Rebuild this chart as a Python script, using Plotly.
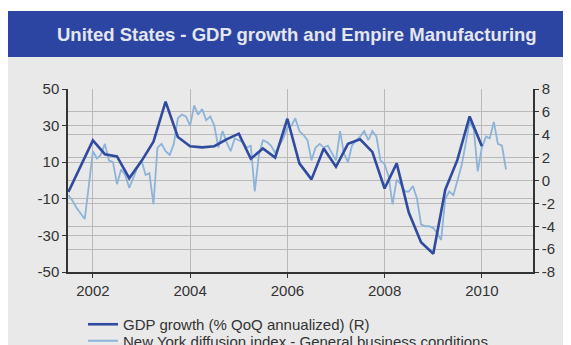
import plotly.graph_objects as go
import pandas as pd

# ---------------- data ----------------
gdp_start = "2001-07-01"   # quarterly, 2001Q3 .. 2010Q1
gdp_growth = [-1.0, 1.3, 3.5, 2.3, 2.1, 0.2, 1.7, 3.4, 6.9, 3.8,
              3.0, 2.9, 3.0, 3.6, 4.1, 1.9, 2.8, 2.0, 5.4, 1.5,
              0.1, 2.8, 1.2, 3.2, 3.6, 2.5, -0.7, 1.5, -2.8, -5.4,
              -6.4, -0.8, 1.8, 5.6, 3.0]

ny_start = "2001-07-01"    # monthly, Jul 2001 .. Jul 2010
ny_index = [-8, -11, -15, -18, -21, -3, 16, 12, 14, 20,
            11, 10, -2, 6, 3, -4, 2, 7, 11, 3,
            4, -13, 18, 20, 16, 14, 20, 34, 36, 35,
            30, 41, 36, 39, 33, 35, 30, 18, 27, 21,
            16, 23, 22, 21, 18, 19, -6, 14, 22, 21,
            19, 15, 19, 23, 29, 30, 34, 27, 25, 22,
            11, 18, 20, 18, 19, 15, 11, 27, 15, 10,
            19, 22, 24, 27, 22, 27, 24, 11, 9, 2,
            -13, 0.5, -2, -6, -6, -3, -10, -24, -25, -25,
            -26, -29, -32.5, -10, -6, -8, 0, 8, 20, 32,
            28, 5, 18, 24, 23, 32, 20, 19, 6]

gdp_dates = pd.date_range(gdp_start, periods=len(gdp_growth), freq="QS")
ny_dates = pd.date_range(ny_start, periods=len(ny_index), freq="MS")

left_ticks = [50, 30, 10, -10, -30, -50]
left_labels = ["50", "30", "10", "-10", "-30", "-50"]
right_ticks = [8, 6, 4, 2, 0, -2, -4, -6, -8]
right_labels = ["8", "6", "4", "2", "0", "-2", "-4", "-6", "-8"]
year_ticks = ["2002-01-01", "2004-01-01", "2006-01-01", "2008-01-01", "2010-01-01"]
year_labels = ["2002", "2004", "2006", "2008", "2010"]

title_text = "United States - GDP growth and Empire Manufacturing"
gdp_name = "GDP growth (% QoQ annualized) (R)"
ny_name = "New York diffusion index - General business conditions"

# ---------------- style ----------------
BG = "#e9e9e9"
BAR = "#2c45a2"
DARK = "#2f4b9f"
LIGHT = "#8db3d8"
GRID = "#b9b9b9"
AX = "#333333"
FONT = "Arial, Liberation Sans, sans-serif"

# the page body adds an 8px margin, which forms the white strip at left/top
W, H = 563, 337
L, R, T, B = 60, 38, 81, 73
pw, ph = W - L - R, H - T - B


def px_x(x):
    return (x - L) / pw


def px_y(y):
    return (H - B - y) / ph


fig = go.Figure()
fig.add_trace(go.Scatter(x=ny_dates, y=ny_index, name=ny_name, mode="lines",
                         line=dict(color=LIGHT, width=1.8), yaxis="y", legend="legend2"))
fig.add_trace(go.Scatter(x=gdp_dates, y=gdp_growth, name=gdp_name, mode="lines",
                         line=dict(color=DARK, width=2.6), yaxis="y2", legend="legend"))

shapes = [
    dict(type="rect", xref="paper", yref="paper", x0=px_x(-1), x1=px_x(W + 5),
         y0=px_y(H + 5), y1=px_y(49), fillcolor=BG, line=dict(width=0), layer="below"),
    dict(type="rect", xref="paper", yref="paper", x0=px_x(-1), x1=px_x(W + 5),
         y0=px_y(49), y1=px_y(3), fillcolor=BAR, line=dict(width=0), layer="below"),
]

legend_common = dict(xref="container", yref="container", xanchor="left", yanchor="top",
                     bgcolor="rgba(0,0,0,0)", font=dict(size=15, color=AX),
                     tracegroupgap=0, itemwidth=30)

fig.update_layout(
    width=W, height=H,
    margin=dict(l=L, r=R, t=T, b=B, pad=0, autoexpand=False),
    paper_bgcolor="white", plot_bgcolor=BG,
    font=dict(family=FONT, size=15, color=AX),
    shapes=shapes,
    showlegend=True,
    legend=dict(x=75 / W, y=1 - 300 / H, **legend_common),
    legend2=dict(x=75 / W, y=1 - 316.5 / H, **legend_common),
    annotations=[dict(text="<b>" + title_text + "</b>", xref="paper", yref="paper",
                      x=px_x(289), y=px_y(27), xanchor="center", yanchor="middle",
                      showarrow=False, font=dict(size=18.5, color="#e4e6ee", family=FONT))],
    xaxis=dict(type="date", range=["2001-06-28", "2011-01-20"],
               tickvals=year_ticks, ticktext=year_labels,
               showgrid=True, gridcolor=GRID, gridwidth=1,
               showline=True, linecolor=AX, linewidth=1.5,
               ticks="outside", ticklen=4, tickcolor=AX,
               zeroline=False, tickfont=dict(size=15, color=AX)),
    yaxis=dict(range=[-50, 50], tickvals=left_ticks, ticktext=left_labels,
               showgrid=True, gridcolor=GRID, gridwidth=1,
               showline=True, linecolor=AX, linewidth=1.5,
               ticks="outside", ticklen=4, tickcolor=AX,
               zeroline=False, tickfont=dict(size=15, color=AX)),
    yaxis2=dict(range=[-8, 8], tickvals=right_ticks, ticktext=right_labels,
                overlaying="y", side="right",
                showgrid=True, gridcolor=GRID, gridwidth=1,
                showline=True, linecolor=AX, linewidth=1.5,
                ticks="outside", ticklen=4, tickcolor=AX,
                zeroline=False, tickfont=dict(size=15, color=AX)),
)

fig.write_html("out.html")
